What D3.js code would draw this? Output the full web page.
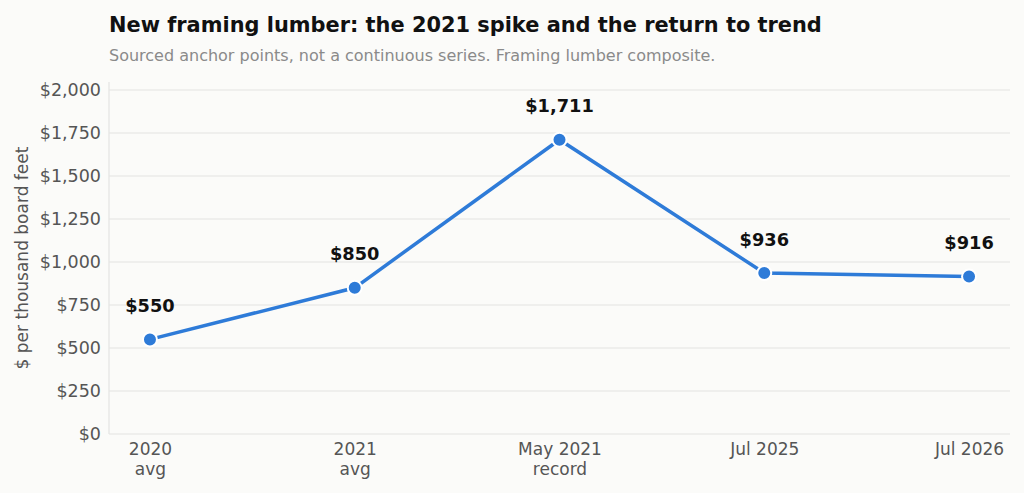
<!DOCTYPE html>
<html>
<head>
<meta charset="utf-8">
<script src="https://cdn.jsdelivr.net/npm/d3@7"></script>
<style>
  body { margin: 0; background: #fbfbf9; }
  svg { display: block; font-family: "DejaVu Sans", sans-serif; }
</style>
</head>
<body>
<svg width="1024" height="493"></svg>
<script>
// framing lumber anchor points
var categories = ["2020\navg", "2021\navg", "May 2021\nrecord", "Jul 2025", "Jul 2026"];
var prices = [550, 850, 1711, 936, 916];
var yTicks = [0, 250, 500, 750, 1000, 1250, 1500, 1750, 2000];

var svg = d3.select("svg"),
    width = +svg.attr("width"),
    height = +svg.attr("height"),
    margin = {top: 82, right: 14, bottom: 59, left: 109};

var data = categories.map(function(c, i) { return {cat: c, value: prices[i]}; });

var x = d3.scalePoint()
    .domain(categories)
    .range([margin.left, width - margin.right])
    .padding(0.2);

var y = d3.scaleLinear()
    .domain([0, 2000])
    .range([height - margin.bottom, 90]);

var fmt = function(d) { return "$" + d3.format(",")(d); };

svg.append("text")
    .attr("x", margin.left).attr("y", 31.5)
    .attr("font-size", 20.9).attr("font-weight", "bold").attr("fill", "#111")
    .text("New framing lumber: the 2021 spike and the return to trend");

svg.append("text")
    .attr("x", margin.left).attr("y", 60.5)
    .attr("font-size", 16).attr("fill", "#8a8a8a")
    .text("Sourced anchor points, not a continuous series. Framing lumber composite.");

// grid
svg.append("g").selectAll("line")
    .data(yTicks)
  .enter().append("line")
    .attr("x1", margin.left).attr("x2", width - margin.right)
    .attr("y1", y).attr("y2", y)
    .attr("stroke", "#e4e4e2").attr("stroke-width", 1.2);

// axis lines
svg.append("line")
    .attr("x1", margin.left).attr("x2", margin.left)
    .attr("y1", margin.top).attr("y2", y(0))
    .attr("stroke", "#e4e4e2").attr("stroke-width", 1.2);

var yAxis = svg.append("g")
    .attr("transform", "translate(" + margin.left + ",0)")
    .call(d3.axisLeft(y).tickValues(yTicks).tickFormat(fmt).tickSize(0).tickPadding(8));
yAxis.select(".domain").remove();
yAxis.selectAll("text").attr("font-size", 17.5).attr("fill", "#555").attr("font-family", "DejaVu Sans");

var xAxis = svg.append("g")
    .attr("transform", "translate(0," + y(0) + ")")
    .call(d3.axisBottom(x).tickSize(0).tickPadding(8).tickFormat(""));
xAxis.select(".domain").remove();
xAxis.selectAll(".tick").each(function(d) {
  var t = d3.select(this).append("text")
      .attr("fill", "#555").attr("font-size", 17)
      .attr("text-anchor", "middle").attr("font-family", "DejaVu Sans");
  d.split("\n").forEach(function(line, i) {
    t.append("tspan").attr("x", 0).attr("y", 21 + i * 20).text(line);
  });
});

svg.append("text")
    .attr("transform", "translate(28," + (y(1000) - 4) + ") rotate(-90)")
    .attr("text-anchor", "middle").attr("font-size", 17).attr("fill", "#555")
    .text("$ per thousand board feet");

var line = d3.line()
    .x(function(d) { return x(d.cat); })
    .y(function(d) { return y(d.value); });

svg.append("path")
    .datum(data)
    .attr("d", line)
    .attr("fill", "none")
    .attr("stroke", "#2e7bd8")
    .attr("stroke-width", 3.5);

svg.append("g").selectAll("circle")
    .data(data)
  .enter().append("circle")
    .attr("cx", function(d) { return x(d.cat); })
    .attr("cy", function(d) { return y(d.value); })
    .attr("r", 7)
    .attr("fill", "#2e7bd8")
    .attr("stroke", "#fff").attr("stroke-width", 2);

svg.append("g").selectAll("text")
    .data(data)
  .enter().append("text")
    .attr("x", function(d) { return x(d.cat); })
    .attr("y", function(d) { return y(d.value) - 27.5; })
    .attr("text-anchor", "middle")
    .attr("font-size", 17.8).attr("font-weight", "bold").attr("fill", "#111")
    .text(function(d) { return fmt(d.value); });
</script>
</body>
</html>
